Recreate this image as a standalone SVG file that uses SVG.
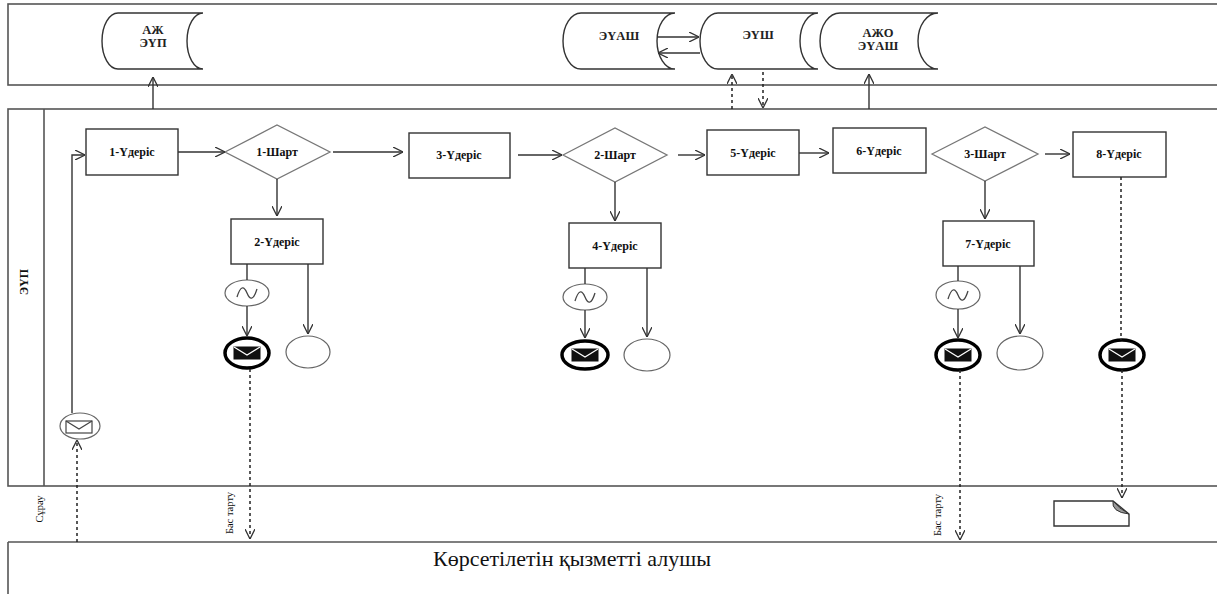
<svg xmlns="http://www.w3.org/2000/svg" width="1217" height="594" viewBox="0 0 1217 594">
<style>
.pool{fill:none;stroke:#555;stroke-width:1.6}
.store{fill:#fff;stroke:#333;stroke-width:1.4}
.box{fill:#fff;stroke:#333;stroke-width:1.4}
.dia{fill:#fff;stroke:#777;stroke-width:1.3}
.ln{fill:none;stroke:#333;stroke-width:1.4}
.dash{fill:none;stroke:#222;stroke-width:1.5;stroke-dasharray:3,3}
.lbl{font-family:"Liberation Serif","Times New Roman",serif;font-weight:bold;font-size:12px;text-anchor:middle;fill:#111}
.slbl{font-family:"Liberation Serif","Times New Roman",serif;font-weight:bold;font-size:12.5px;text-anchor:middle;fill:#222}
.vlbl{font-family:"Liberation Serif","Times New Roman",serif;font-size:10.5px;text-anchor:middle;fill:#111}
.big{font-family:"Liberation Serif","Times New Roman",serif;font-size:22px;text-anchor:middle;fill:#111}
.wave{fill:#fff;stroke:#666;stroke-width:1.2}
.wv{fill:none;stroke:#444;stroke-width:1.3}
.msg{fill:#fff;stroke:#000;stroke-width:3.5}
.env{fill:#111;stroke:#111;stroke-width:1}
.envl{fill:none;stroke:#fff;stroke-width:1.2}
.end{fill:#fff;stroke:#666;stroke-width:1.2}
</style>
<defs>
<marker id="ah" viewBox="0 0 10 10" refX="10" refY="5" markerWidth="10" markerHeight="10" markerUnits="userSpaceOnUse" orient="auto">
<path d="M0,0 L10,5 L0,10" fill="none" stroke="#333" stroke-width="1.3"/>
</marker>
</defs>

<g id="pools">
<rect class="pool" x="8" y="4" width="1220" height="81"/>
<rect class="pool" x="8" y="109" width="1220" height="377"/>
<line class="pool" x1="44" y1="109" x2="44" y2="486"/>
<line class="pool" x1="8" y1="542" x2="1228" y2="542"/>
<line class="pool" x1="8" y1="542" x2="8" y2="600"/>
<text class="lbl" font-size="9.5" transform="translate(28,282) rotate(-90)">ЭҮП</text>
<text class="vlbl" transform="translate(43,509) rotate(-90)">Сұрау</text>
<text class="vlbl" transform="translate(233,513) rotate(-90)">Бас тарту</text>
<text class="vlbl" transform="translate(941,515) rotate(-90)">Бас тарту</text>
<text class="big" x="572" y="566">Көрсетілетін қызметті алушы</text>
</g>

<g id="store-azh-eup">
<path class="store" d="M118,13 H203 A16,28 0 0 0 203,69 H118 A16,28 0 0 1 118,13 Z"/>
<text class="slbl" x="153" y="34">АЖ</text>
<text class="slbl" x="153" y="47">ЭҮП</text>
</g>
<g id="store-euash">
<path class="store" d="M581,13 H675 A18,28 0 0 0 675,69 H581 A18,28 0 0 1 581,13 Z"/>
<text class="slbl" x="619" y="40">ЭҮАШ</text>
</g>
<g id="store-eush">
<path class="store" d="M718,13 H818 A18,28 0 0 0 818,69 H718 A18,28 0 0 1 718,13 Z"/>
<text class="slbl" x="758" y="39">ЭҮШ</text>
</g>
<g id="store-azho-euash">
<path class="store" d="M840,13 H938 A20,28 0 0 0 938,69 H840 A20,28 0 0 1 840,13 Z"/>
<text class="slbl" x="878" y="37">АЖО</text>
<text class="slbl" x="878" y="50">ЭҮАШ</text>
</g>

<g id="start-msg">
<ellipse class="wave" cx="80" cy="426" rx="20" ry="13"/>
<rect x="66" y="421" width="26" height="12" fill="#fff" stroke="#444" stroke-width="1.2"/>
<path d="M66,421 L79,429 L92,421" fill="none" stroke="#444" stroke-width="1.2"/>
</g>

<g id="p1"><rect class="box" x="86" y="129" width="92" height="46"/><text class="lbl" x="132" y="156">1-Үдеріс</text></g>
<g id="g1"><polygon class="dia" points="225,152 277,125 330,152 277,179"/><text class="lbl" x="277" y="156">1-Шарт</text></g>
<g id="p3"><rect class="box" x="409" y="133" width="101" height="45"/><text class="lbl" x="459" y="159">3-Үдеріс</text></g>
<g id="g2"><polygon class="dia" points="563,155 615,128 667,155 615,182"/><text class="lbl" x="615" y="159">2-Шарт</text></g>
<g id="p5"><rect class="box" x="707" y="130" width="92" height="45"/><text class="lbl" x="753" y="157">5-Үдеріс</text></g>
<g id="p6"><rect class="box" x="833" y="128" width="93" height="45"/><text class="lbl" x="879" y="155">6-Үдеріс</text></g>
<g id="g3"><polygon class="dia" points="932,154 985,127 1038,154 985,181"/><text class="lbl" x="985" y="158">3-Шарт</text></g>
<g id="p8"><rect class="box" x="1073" y="132" width="93" height="45"/><text class="lbl" x="1119" y="158">8-Үдеріс</text></g>

<g id="p2"><rect class="box" x="231" y="219" width="92" height="45"/><text class="lbl" x="277" y="246">2-Үдеріс</text></g>
<g id="p4"><rect class="box" x="569" y="223" width="92" height="45"/><text class="lbl" x="615" y="250">4-Үдеріс</text></g>
<g id="p7"><rect class="box" x="943" y="221" width="91" height="45"/><text class="lbl" x="988" y="248">7-Үдеріс</text></g>

<g id="w2"><ellipse class="wave" cx="247" cy="293" rx="22" ry="13"/><path class="wv" transform="translate(247,293)" d="M-10,4 Q-5,-12 0,0 Q5,12 10,-4"/></g>
<g id="w4"><ellipse class="wave" cx="585" cy="297" rx="22" ry="13"/><path class="wv" transform="translate(585,297)" d="M-10,4 Q-5,-12 0,0 Q5,12 10,-4"/></g>
<g id="w7"><ellipse class="wave" cx="958" cy="295" rx="22" ry="14"/><path class="wv" transform="translate(958,295)" d="M-10,4 Q-5,-12 0,0 Q5,12 10,-4"/></g>

<g id="m2"><ellipse class="msg" cx="247" cy="353" rx="22" ry="15"/><rect class="env" x="234" y="347" width="26" height="12"/><path class="envl" d="M234,347 L247,355 L260,347"/></g>
<g id="m4"><ellipse class="msg" cx="585" cy="355" rx="23" ry="14"/><rect class="env" x="572" y="349" width="26" height="12"/><path class="envl" d="M572,349 L585,357 L598,349"/></g>
<g id="m7"><ellipse class="msg" cx="958" cy="355" rx="22" ry="15"/><rect class="env" x="945" y="349" width="26" height="12"/><path class="envl" d="M945,349 L958,357 L971,349"/></g>
<g id="m8"><ellipse class="msg" cx="1122" cy="355" rx="22" ry="15"/><rect class="env" x="1109" y="349" width="26" height="12"/><path class="envl" d="M1109,349 L1122,357 L1135,349"/></g>

<g id="e2"><ellipse class="end" cx="308" cy="352" rx="22" ry="16"/></g>
<g id="e4"><ellipse class="end" cx="647" cy="355" rx="23" ry="16"/></g>
<g id="e7"><ellipse class="end" cx="1020" cy="353" rx="23" ry="17"/></g>

<g id="doc">
<path d="M1054,501 H1113 L1129,514 V526 H1054 Z" fill="#fff" stroke="#333" stroke-width="1.4"/>
<path d="M1113,501 Q1111,512 1129,514 Q1118,508 1113,501 Z" fill="#999" stroke="#333" stroke-width="1"/>
</g>

<g id="connectors">
<line class="ln" x1="153" y1="109" x2="153" y2="77" marker-end="url(#ah)"/>
<line class="ln" x1="657" y1="37" x2="699" y2="37" marker-end="url(#ah)"/>
<line class="ln" x1="700" y1="53" x2="658" y2="53" marker-end="url(#ah)"/>
<line class="dash" x1="732" y1="109" x2="732" y2="74" marker-end="url(#ah)"/>
<line class="dash" x1="763" y1="72" x2="763" y2="108" marker-end="url(#ah)"/>
<line class="ln" x1="869" y1="109" x2="869" y2="74" marker-end="url(#ah)"/>
<polyline class="ln" points="72,413 72,155 85,155" marker-end="url(#ah)"/>
<line class="dash" x1="77" y1="542" x2="77" y2="440" marker-end="url(#ah)"/>
<line class="ln" x1="178" y1="152" x2="225" y2="152" marker-end="url(#ah)"/>
<line class="ln" x1="333" y1="152" x2="403" y2="152" marker-end="url(#ah)"/>
<line class="ln" x1="277" y1="179" x2="277" y2="216" marker-end="url(#ah)"/>
<line class="ln" x1="247" y1="264" x2="247" y2="280"/>
<line class="ln" x1="247" y1="306" x2="247" y2="336" marker-end="url(#ah)"/>
<line class="ln" x1="308" y1="264" x2="308" y2="334" marker-end="url(#ah)"/>
<line class="dash" x1="250" y1="369" x2="250" y2="539" marker-end="url(#ah)"/>
<line class="ln" x1="518" y1="155" x2="562" y2="155" marker-end="url(#ah)"/>
<line class="ln" x1="615" y1="182" x2="615" y2="221" marker-end="url(#ah)"/>
<line class="ln" x1="585" y1="268" x2="585" y2="284"/>
<line class="ln" x1="585" y1="310" x2="585" y2="338" marker-end="url(#ah)"/>
<line class="ln" x1="647" y1="268" x2="647" y2="337" marker-end="url(#ah)"/>
<line class="ln" x1="678" y1="155" x2="705" y2="155" marker-end="url(#ah)"/>
<line class="ln" x1="799" y1="153" x2="829" y2="153" marker-end="url(#ah)"/>
<line class="ln" x1="1045" y1="154" x2="1070" y2="154" marker-end="url(#ah)"/>
<line class="ln" x1="985" y1="181" x2="985" y2="219" marker-end="url(#ah)"/>
<line class="ln" x1="958" y1="266" x2="958" y2="281"/>
<line class="ln" x1="958" y1="309" x2="958" y2="338" marker-end="url(#ah)"/>
<line class="ln" x1="1020" y1="266" x2="1020" y2="334" marker-end="url(#ah)"/>
<line class="dash" x1="960" y1="370" x2="960" y2="540" marker-end="url(#ah)"/>
<line class="dash" x1="1121" y1="177" x2="1121" y2="340"/>
<line class="dash" x1="1122" y1="370" x2="1122" y2="498" marker-end="url(#ah)"/>
</g>
</svg>
